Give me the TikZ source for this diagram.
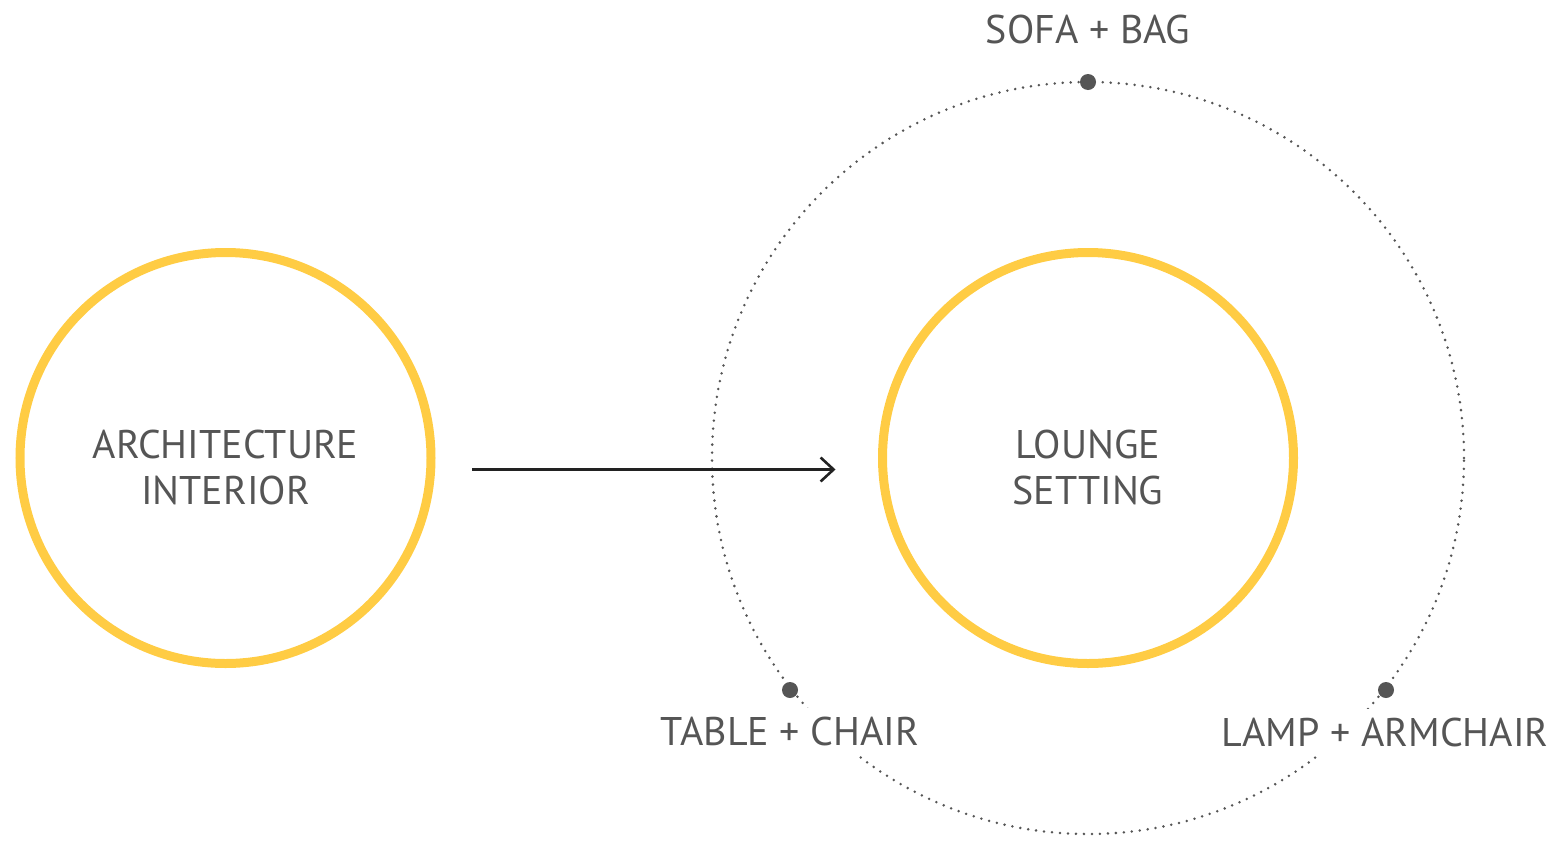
\documentclass[tikz,border=0pt]{standalone}
\usepackage{fontspec}
\setmainfont{PT Sans}
\usetikzlibrary{arrows.meta}
\definecolor{ringyellow}{HTML}{FFCC44}
\definecolor{txtgray}{HTML}{555555}
\definecolor{arrowdark}{HTML}{222222}
\tikzset{
  ring/.style={circle, draw=ringyellow, line width=9pt, minimum size=411pt, inner sep=0pt},
  orbit/.style={circle, draw=txtgray, line width=2.8pt, line cap=round, dash pattern=on 0pt off 8pt, minimum size=752pt, inner sep=0pt},
  bigdot/.style={circle, fill=txtgray, minimum size=16pt, inner sep=0pt},
  maintext/.style={text=txtgray, align=center, font=\fontsize{40}{46}\selectfont},
  satlabel/.style={text=txtgray, fill=white, font=\fontsize{40}{46}\selectfont, inner sep=10pt, text height=27pt, text depth=0pt},
  flow/.style={draw=arrowdark, line width=2.2pt, -{Straight Barb[length=13pt,width=24pt,line width=2.6pt]}}
}
\begin{document}
\begin{tikzpicture}[x=1pt,y=-1pt]
\useasboundingbox (0,0) rectangle (1558,841);
\node[ring] (arch) at (225.5,458) {};
\node[ring] (lounge) at (1088,458) {};
\node[orbit] (orb) at (1088,458) {};
\node[maintext] (archtxt) at (225.5,467) {ARCHITECTURE\\INTERIOR};
\node[maintext] (loungetxt) at (1088,467) {LOUNGE\\SETTING};
\node[bigdot] (dtop) at (1088,82) {};
\node[bigdot] (dleft) at (790,690) {};
\node[bigdot] (dright) at (1386,690) {};
\node[satlabel, anchor=base] (ltop) at (1088,43) {SOFA + BAG};
\node[satlabel, anchor=base] (lleft) at (790,745) {TABLE + CHAIR};
\node[satlabel, anchor=base] (lright) at (1385,746) {LAMP + ARMCHAIR};
\draw[flow] ([xshift=36.5pt,yshift=-11.5pt]arch.east) -- ([xshift=-42.5pt,yshift=-11.5pt]lounge.west);
\end{tikzpicture}
\end{document}
